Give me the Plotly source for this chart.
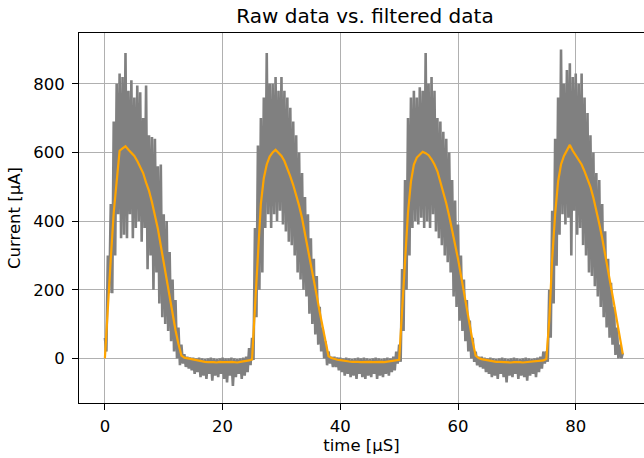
import numpy as np
import plotly.graph_objects as go

# sample grid (µs): envelope samples every 0.5 µs
t_step = 0.5

# Raw signal: local highs (sampled at t = k*0.5) and local lows (at t = k*0.5 + 0.25)
raw_high_p1 = [60, 300, 450, 690, 800, 830, 820, 890, 780, 810, 760, 795, 775, 700, 795,
               650, 645, 640, 560, 565, 420, 400, 310, 230, 170, 90, 40, 12]
raw_high_t1 = [5, 3, 2, 0, 2, 0, -2, 0, 2, 0, -2, 0, 2, 0, 0, 2, 0, -2, 0, 2, 5, 30]
raw_high_p2 = [60, 380, 620, 700, 760, 890, 800, 800, 820, 780, 820, 780, 760, 730, 690,
               650, 600, 540, 470, 420, 350, 290, 240, 150, 90, 50, 20, 5]
raw_high_t2 = [5, 3, 2, 0, 2, 0, -2, 0, 2, 0, 2, 0, -2, 0, 2, 0, -2, 0, 2, 0, 5, 20]
raw_high_p3 = [40, 260, 520, 700, 760, 780, 760, 790, 780, 890, 800, 820, 780, 700, 690,
               660, 640, 600, 520, 460, 390, 300, 230, 170, 110, 60, 20, 5]
raw_high_t3 = [5, 2, 0, 2, 0, -2, 0, 2, 0, -2, 0, 2, 0, -2, 0, 2, 0, -2, 0, 2, 5, 20]
raw_high_p4 = [20, 200, 430, 640, 760, 900, 800, 840, 860, 820, 830, 800, 830, 760, 715,
               650, 600, 540, 520, 450, 370, 290, 220, 150, 90, 40, 15]

raw_low_p1 = [20, 190, 190, 300, 420, 350, 360, 350, 420, 350, 380, 400, 340, 380, 260,
              300, 200, 250, 160, 120, 100, 80, 50, 20, 0, -20, -15, -25]
raw_low_t1 = [-30, -35, -45, -40, -55, -50, -60, -45, -65, -50, -55, -45, -60, -70, -50,
              -80, -55, -45, -60, -50, -40, -20]
raw_low_p2 = [-5, 120, 200, 250, 380, 420, 380, 420, 400, 430, 390, 370, 340, 330, 300,
              250, 230, 200, 180, 130, 100, 70, 40, 20, 0, -20, -15, -25]
raw_low_t2 = [-25, -35, -40, -50, -45, -55, -50, -60, -45, -55, -60, -50, -55, -45, -60,
              -50, -55, -45, -50, -40, -35, -15]
raw_low_p3 = [-10, 80, 200, 300, 380, 400, 390, 410, 380, 400, 380, 420, 370, 350, 330,
              300, 280, 250, 180, 150, 110, 80, 50, 20, 0, -10, -20, -25]
raw_low_t3 = [-30, -40, -45, -55, -50, -60, -45, -55, -70, -50, -55, -45, -60, -50, -55,
              -65, -50, -45, -55, -40, -30, -15]
raw_low_p4 = [-10, 60, 160, 270, 360, 420, 390, 410, 300, 430, 360, 380, 330, 300, 250,
              240, 210, 180, 150, 120, 90, 60, 40, 10, 0, 0, 5]

# Filtered signal (every 0.5 µs)
filt_p1 = [0, 160, 290, 425, 520, 605, 612, 618, 608, 600, 590, 575, 558, 540, 512,
           488, 455, 420, 378, 328, 278, 226, 174, 126, 82, 42, 8, 2]
filt_t1 = [0, -2, -4, -6, -8, -9, -10, -11, -10, -11, -12, -10, -11, -12, -11, -10,
           -11, -12, -10, -9, -8, -6]
filt_p2 = [-3, 150, 330, 450, 525, 565, 588, 600, 608, 600, 590, 575, 555, 530, 505,
           478, 445, 408, 365, 320, 275, 228, 182, 135, 88, 42, 6, 1]
filt_t2 = [-2, -4, -5, -7, -8, -9, -10, -9, -10, -11, -10, -9, -10, -11, -10, -9,
           -10, -11, -10, -9, -8, -7]
filt_p3 = [-4, 140, 300, 425, 515, 565, 585, 595, 602, 598, 592, 580, 565, 545, 515,
           488, 452, 415, 375, 335, 290, 242, 192, 142, 95, 48, 8, 1]
filt_t3 = [-2, -4, -6, -8, -9, -10, -10, -11, -10, -11, -12, -11, -10, -11, -12, -11,
           -10, -11, -10, -9, -8, -6]
filt_p4 = [-2, 110, 290, 420, 515, 565, 590, 605, 622, 605, 592, 580, 565, 545, 525,
           500, 468, 432, 392, 350, 305, 258, 208, 160, 110, 60, 12]

raw_high = raw_high_p1 + raw_high_t1 + raw_high_p2 + raw_high_t2 + raw_high_p3 + raw_high_t3 + raw_high_p4
raw_low = raw_low_p1 + raw_low_t1 + raw_low_p2 + raw_low_t2 + raw_low_p3 + raw_low_t3 + raw_low_p4
filtered = filt_p1 + filt_t1 + filt_p2 + filt_t2 + filt_p3 + filt_t3 + filt_p4

n = len(filtered)
t_filt = [i * t_step for i in range(n)]

t_raw, raw = [], []
for i in range(n):
    t_raw.append(i * t_step)
    raw.append(raw_high[i])
    if i < n - 1:
        t_raw.append(i * t_step + t_step / 2)
        raw.append(raw_low[i])

fig = go.Figure()
fig.add_trace(go.Scatter(x=t_raw, y=raw, mode="lines",
                         line=dict(color="#808080", width=2.6, simplify=False),
                         showlegend=False, hoverinfo="skip"))
fig.add_trace(go.Scatter(x=t_filt, y=filtered, mode="lines",
                         line=dict(color="#FFA500", width=2.2), showlegend=False,
                         hoverinfo="skip"))

font_family = "DejaVu Sans"
fig.update_layout(
    width=644, height=458,
    margin=dict(l=79, r=0, t=33, b=55),
    paper_bgcolor="white", plot_bgcolor="white",
    font=dict(family=font_family, size=16.5, color="black"),
    title=dict(text="Raw data vs. filtered data", x=365 / 644, xref="container",
               xanchor="center", y=1 - 16 / 458, yref="container", yanchor="middle",
               font=dict(size=20, family=font_family, color="black")),
)
fig.update_xaxes(
    range=[-4.4, 91.6], tickvals=[0, 20, 40, 60, 80],
    showgrid=True, gridcolor="#b0b0b0", gridwidth=0.8, zeroline=False,
    showline=True, linecolor="black", linewidth=1, mirror=True,
    ticks="outside", ticklen=6, tickcolor="black", tickwidth=1,
    ticklabelstandoff=2,
    title=dict(text="time [µS]", standoff=4, font=dict(size=16.5)),
)
fig.update_yaxes(
    range=[-130, 948], tickvals=[0, 200, 400, 600, 800],
    showgrid=True, gridcolor="#b0b0b0", gridwidth=0.8, zeroline=False,
    showline=True, linecolor="black", linewidth=1, mirror=False,
    ticks="outside", ticklen=6, tickcolor="black", tickwidth=1,
    ticklabelstandoff=4,
    title=dict(text="Current [µA]", standoff=8, font=dict(size=16.5)),
)

fig.write_html(
    "out.html",
    config={"displayModeBar": False},
    post_script="document.body.style.margin='0';document.body.style.overflow='hidden';",
)
